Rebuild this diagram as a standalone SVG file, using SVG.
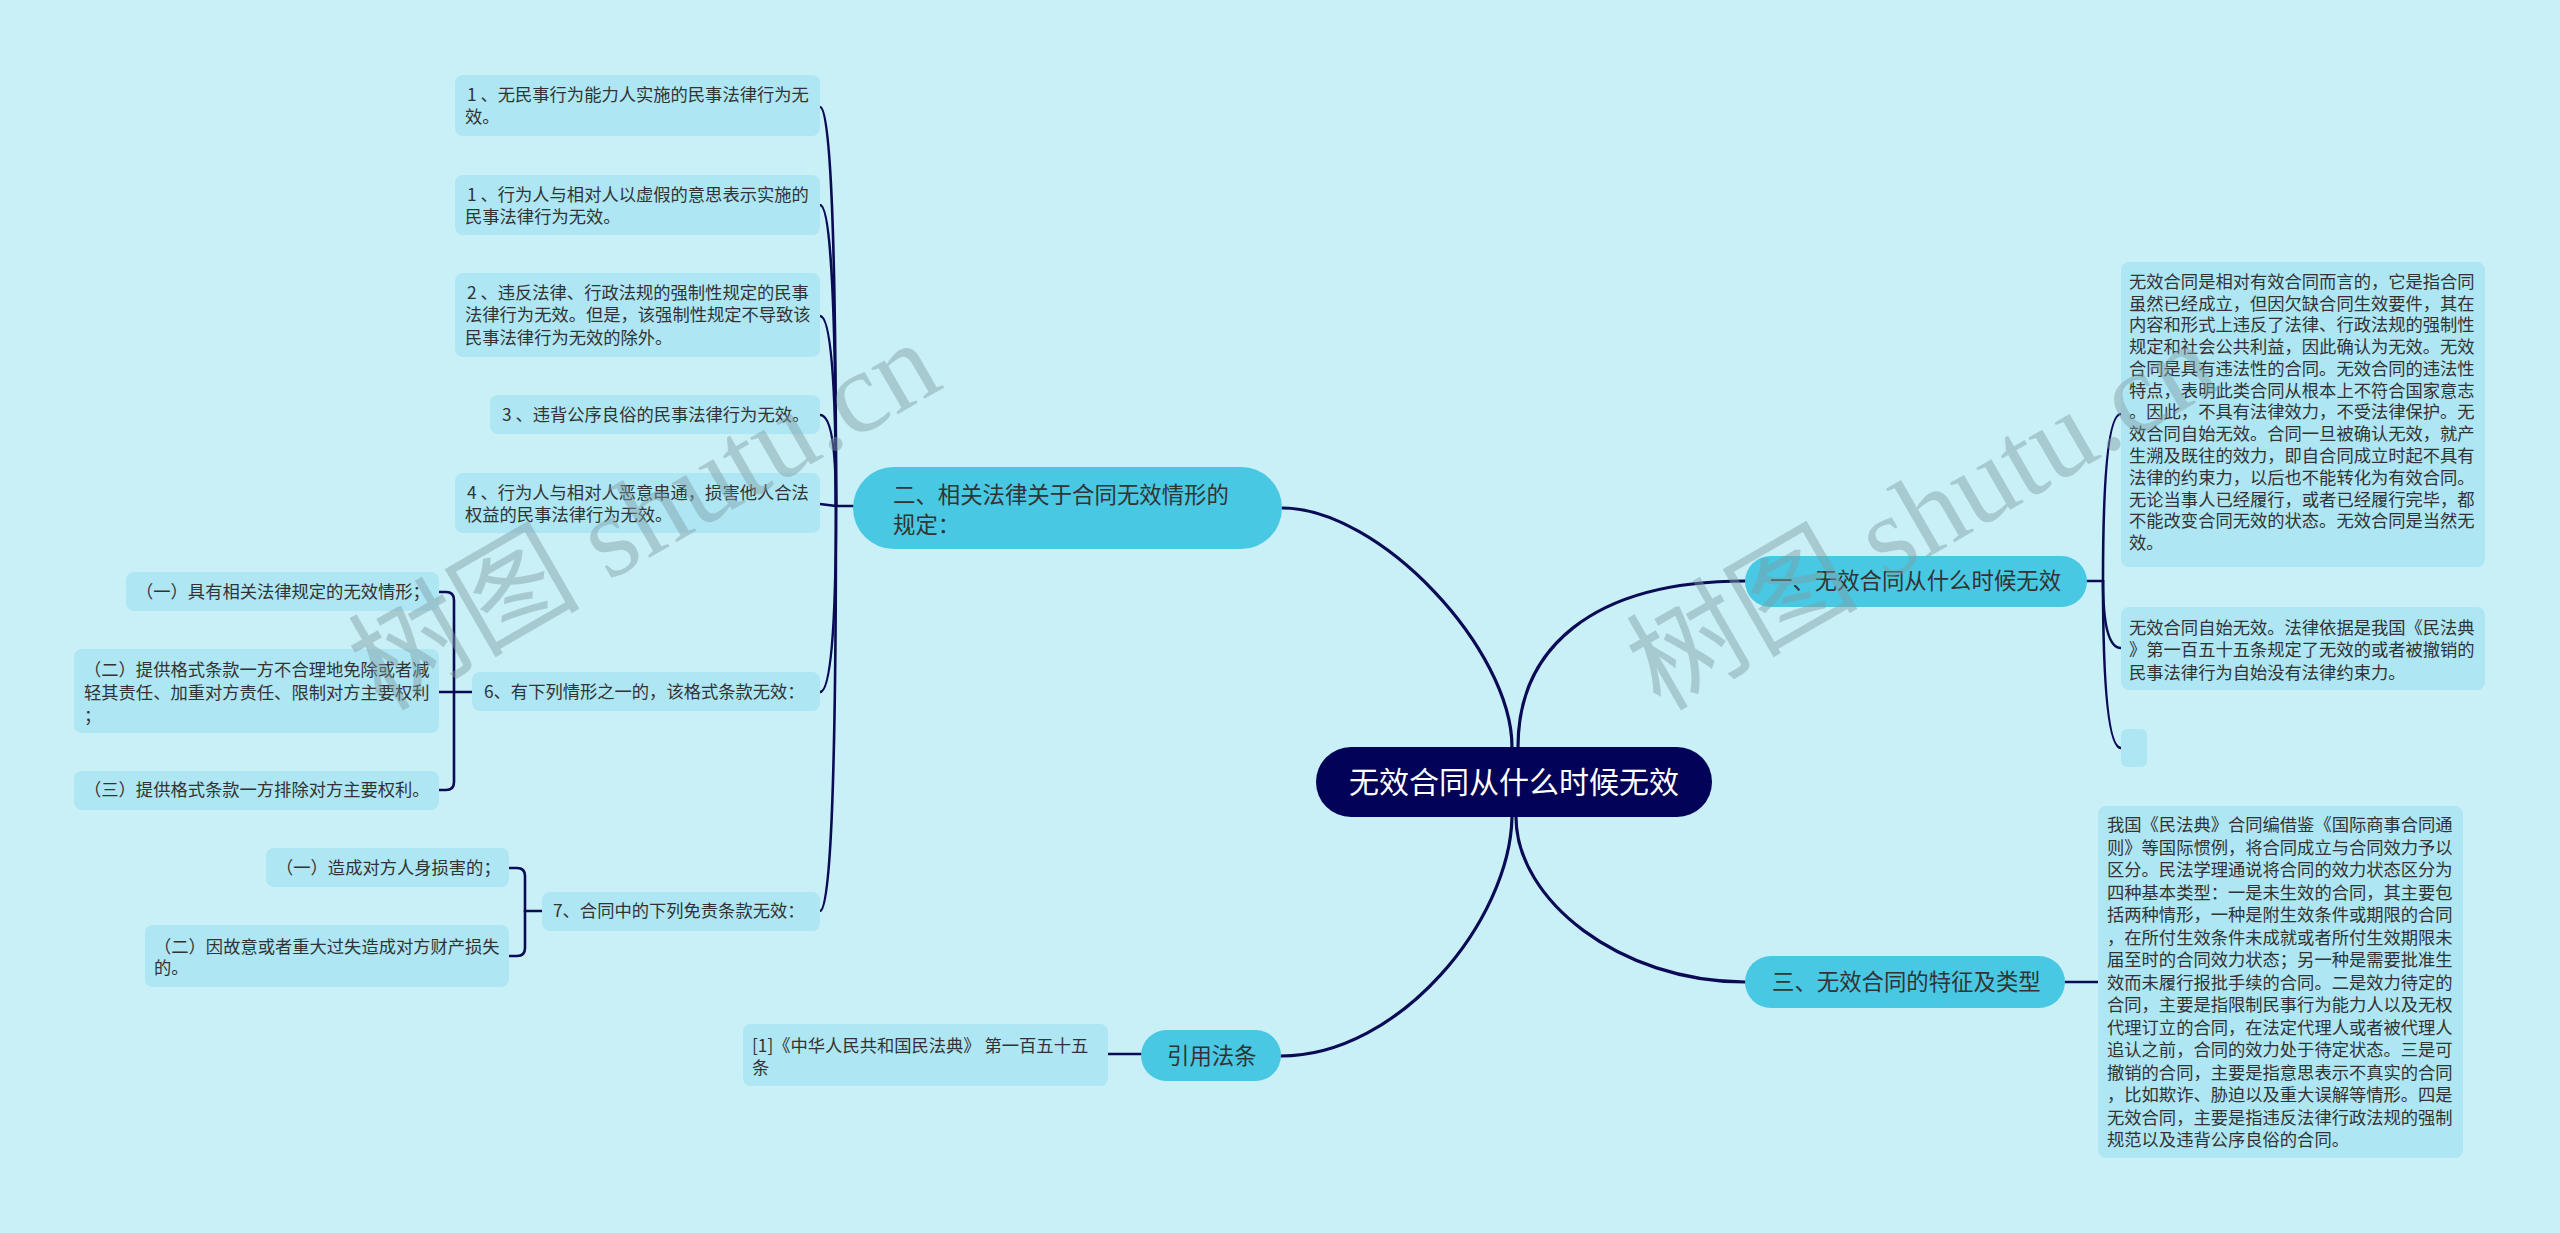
<svg xmlns="http://www.w3.org/2000/svg" width="2560" height="1233" viewBox="0 0 2560 1233">
<style>
.bg{fill:#c9f0f7}
.leaf{fill:#aee6f3}
.l1{fill:#48c8e2}
.root{fill:#020258}
.t{font-family:"Noto Sans CJK SC","Liberation Sans",sans-serif;font-size:17.3px;fill:#333333}
.t1{font-family:"Noto Sans CJK SC","Liberation Sans",sans-serif;font-size:22.4px;fill:#333333}
.tr{font-family:"Noto Sans CJK SC","Liberation Sans",sans-serif;font-size:30px;fill:#ffffff}
.c{fill:none;stroke:#0a0a55;stroke-width:2.6;stroke-linecap:round}
.cm{fill:none;stroke:#0a0a55;stroke-width:3.2;stroke-linecap:round}
.wm{font-family:"Liberation Serif","Noto Sans CJK SC",serif;font-size:116px;fill:#7f9ea4;opacity:0.45}
</style>
<rect class="bg" x="0" y="0" width="2560" height="1233"/>

<g id="connectors">
  <path class="cm" d="M1282,508 C1380,508 1512,650 1512,747"/>
  <path class="cm" d="M1518,747 C1518,650 1590,581 1745,581"/>
  <path class="cm" d="M1516,817 C1516,900 1620,982 1745,982"/>
  <path class="cm" d="M1512,817 C1510,920 1400,1056 1281,1056"/>
  <path class="c" d="M853,506 L836,506"/>
  <path class="c" d="M836,506 Q836,107 820,107"/>
  <path class="c" d="M836,506 Q836,205 820,205"/>
  <path class="c" d="M836,506 Q836,316 820,316"/>
  <path class="c" d="M836,506 Q836,415 820,415"/>
  <path class="c" d="M836,506 L820,504"/>
  <path class="c" d="M836,506 Q836,692 820,692"/>
  <path class="c" d="M836,506 Q836,911 820,911"/>
  <path class="c" d="M472,692 L439,692"/>
  <path class="c" d="M454,692 L454,600 Q454,592 446,592 L439,592"/>
  <path class="c" d="M454,692 L454,782 Q454,790 446,790 L439,790"/>
  <path class="c" d="M542,911 L525,911"/>
  <path class="c" d="M525,911 L525,876 Q525,868 517,868 L509,868"/>
  <path class="c" d="M525,911 L525,948 Q525,956 517,956 L509,956"/>
  <path class="c" d="M1141,1054 L1108,1054"/>
  <path class="c" d="M2087,581 L2103,581"/>
  <path class="c" d="M2103,581 Q2103,414 2121,414"/>
  <path class="c" d="M2103,581 Q2103,648 2121,648"/>
  <path class="c" d="M2103,581 Q2103,748 2121,748"/>
  <path class="c" d="M2065,982 L2098,982"/>
</g>

<g id="root">
  <rect class="root" x="1316" y="747" width="396" height="70" rx="35"/>
  <text class="tr" x="1514" y="793" text-anchor="middle">无效合同从什么时候无效</text>
</g>

<g id="n-er">
  <rect class="l1" x="853" y="467" width="429" height="82" rx="41"/>
  <text class="t1" x="893" y="503">二、相关法律关于合同无效情形的</text>
  <text class="t1" x="893" y="533">规定：</text>
</g>
<g id="n-yi">
  <rect class="l1" x="1745" y="556" width="342" height="51" rx="25.5"/>
  <text class="t1" x="1770" y="589">一、无效合同从什么时候无效</text>
</g>
<g id="n-san">
  <rect class="l1" x="1745" y="956" width="320" height="52" rx="26"/>
  <text class="t1" x="1772" y="990">三、无效合同的特征及类型</text>
</g>
<g id="n-yinyong">
  <rect class="l1" x="1141" y="1030" width="140" height="51" rx="25.5"/>
  <text class="t1" x="1167" y="1064">引用法条</text>
</g>

<g id="leaf-1">
  <rect class="leaf" x="455" y="75" width="365" height="61" rx="8"/>
  <text class="t" x="467" y="101">1 、无民事行为能力人实施的民事法律行为无</text>
  <text class="t" x="465" y="123">效。</text>
</g>
<g id="leaf-2">
  <rect class="leaf" x="455" y="175" width="365" height="60" rx="8"/>
  <text class="t" x="467" y="201">1 、行为人与相对人以虚假的意思表示实施的</text>
  <text class="t" x="465" y="223">民事法律行为无效。</text>
</g>
<g id="leaf-3">
  <rect class="leaf" x="455" y="273" width="365" height="84" rx="8"/>
  <text class="t" x="467" y="299">2 、违反法律、行政法规的强制性规定的民事</text>
  <text class="t" x="465" y="321">法律行为无效。但是，该强制性规定不导致该</text>
  <text class="t" x="465" y="344">民事法律行为无效的除外。</text>
</g>
<g id="leaf-4">
  <rect class="leaf" x="490" y="395" width="330" height="39" rx="8"/>
  <text class="t" x="502" y="421">3 、违背公序良俗的民事法律行为无效。</text>
</g>
<g id="leaf-5">
  <rect class="leaf" x="455" y="473" width="365" height="60" rx="8"/>
  <text class="t" x="467" y="499">4 、行为人与相对人恶意串通，损害他人合法</text>
  <text class="t" x="465" y="521">权益的民事法律行为无效。</text>
</g>
<g id="leaf-6">
  <rect class="leaf" x="472" y="672" width="348" height="39" rx="8"/>
  <text class="t" x="484" y="698">6、有下列情形之一的，该格式条款无效：</text>
</g>
<g id="leaf-6-1">
  <rect class="leaf" x="126" y="572" width="313" height="39" rx="8"/>
  <text class="t" x="136" y="598">（一）具有相关法律规定的无效情形；</text>
</g>
<g id="leaf-6-2">
  <rect class="leaf" x="74" y="649" width="365" height="84" rx="8"/>
  <text class="t" x="84" y="676">（二）提供格式条款一方不合理地免除或者减</text>
  <text class="t" x="84" y="699">轻其责任、加重对方责任、限制对方主要权利</text>
  <text class="t" x="84" y="722">；</text>
</g>
<g id="leaf-6-3">
  <rect class="leaf" x="74" y="771" width="365" height="39" rx="8"/>
  <text class="t" x="84" y="796">（三）提供格式条款一方排除对方主要权利。</text>
</g>
<g id="leaf-7">
  <rect class="leaf" x="542" y="892" width="278" height="39" rx="8"/>
  <text class="t" x="553" y="917">7、合同中的下列免责条款无效：</text>
</g>
<g id="leaf-7-1">
  <rect class="leaf" x="266" y="848" width="243" height="39" rx="8"/>
  <text class="t" x="276" y="874">（一）造成对方人身损害的；</text>
</g>
<g id="leaf-7-2">
  <rect class="leaf" x="145" y="925" width="364" height="62" rx="8"/>
  <text class="t" x="154" y="953">（二）因故意或者重大过失造成对方财产损失</text>
  <text class="t" x="154" y="974">的。</text>
</g>
<g id="leaf-cite">
  <rect class="leaf" x="743" y="1024" width="365" height="62" rx="8"/>
  <text class="t" x="752" y="1052">[1]《中华人民共和国民法典》 第一百五十五</text>
  <text class="t" x="752" y="1074">条</text>
</g>

<g id="leaf-r1">
  <rect class="leaf" x="2121" y="262" width="364" height="305" rx="8"/>
  <text class="t" x="2129" y="288">无效合同是相对有效合同而言的，它是指合同</text>
  <text class="t" x="2129" y="310">虽然已经成立，但因欠缺合同生效要件，其在</text>
  <text class="t" x="2129" y="331">内容和形式上违反了法律、行政法规的强制性</text>
  <text class="t" x="2129" y="353">规定和社会公共利益，因此确认为无效。无效</text>
  <text class="t" x="2129" y="375">合同是具有违法性的合同。无效合同的违法性</text>
  <text class="t" x="2129" y="397">特点，表明此类合同从根本上不符合国家意志</text>
  <text class="t" x="2129" y="418">。因此，不具有法律效力，不受法律保护。无</text>
  <text class="t" x="2129" y="440">效合同自始无效。合同一旦被确认无效，就产</text>
  <text class="t" x="2129" y="462">生溯及既往的效力，即自合同成立时起不具有</text>
  <text class="t" x="2129" y="484">法律的约束力，以后也不能转化为有效合同。</text>
  <text class="t" x="2129" y="506">无论当事人已经履行，或者已经履行完毕，都</text>
  <text class="t" x="2129" y="527">不能改变合同无效的状态。无效合同是当然无</text>
  <text class="t" x="2129" y="549">效。</text>
</g>
<g id="leaf-r2">
  <rect class="leaf" x="2121" y="607" width="364" height="83" rx="8"/>
  <text class="t" x="2129" y="634">无效合同自始无效。法律依据是我国《民法典</text>
  <text class="t" x="2129" y="656">》第一百五十五条规定了无效的或者被撤销的</text>
  <text class="t" x="2129" y="679">民事法律行为自始没有法律约束力。</text>
</g>
<g id="leaf-r3">
  <rect class="leaf" x="2121" y="729" width="26" height="38" rx="6"/>
</g>
<g id="leaf-r4">
  <rect class="leaf" x="2098" y="806" width="365" height="352" rx="8"/>
  <text class="t" x="2107" y="831">我国《民法典》合同编借鉴《国际商事合同通</text>
  <text class="t" x="2107" y="853.5">则》等国际惯例，将合同成立与合同效力予以</text>
  <text class="t" x="2107" y="876">区分。民法学理通说将合同的效力状态区分为</text>
  <text class="t" x="2107" y="898.5">四种基本类型：一是未生效的合同，其主要包</text>
  <text class="t" x="2107" y="921">括两种情形，一种是附生效条件或期限的合同</text>
  <text class="t" x="2107" y="943.5">，在所付生效条件未成就或者所付生效期限未</text>
  <text class="t" x="2107" y="966">届至时的合同效力状态；另一种是需要批准生</text>
  <text class="t" x="2107" y="988.5">效而未履行报批手续的合同。二是效力待定的</text>
  <text class="t" x="2107" y="1011">合同，主要是指限制民事行为能力人以及无权</text>
  <text class="t" x="2107" y="1033.5">代理订立的合同，在法定代理人或者被代理人</text>
  <text class="t" x="2107" y="1056">追认之前，合同的效力处于待定状态。三是可</text>
  <text class="t" x="2107" y="1078.5">撤销的合同，主要是指意思表示不真实的合同</text>
  <text class="t" x="2107" y="1101">，比如欺诈、胁迫以及重大误解等情形。四是</text>
  <text class="t" x="2107" y="1123.5">无效合同，主要是指违反法律行政法规的强制</text>
  <text class="t" x="2107" y="1146">规范以及违背公序良俗的合同。</text>
</g>

<g id="watermark">
  <text class="wm" transform="translate(382,712) rotate(-30)">树图 shutu.cn</text>
  <text class="wm" transform="translate(1660,712) rotate(-30)">树图 shutu.cn</text>
</g>
</svg>
